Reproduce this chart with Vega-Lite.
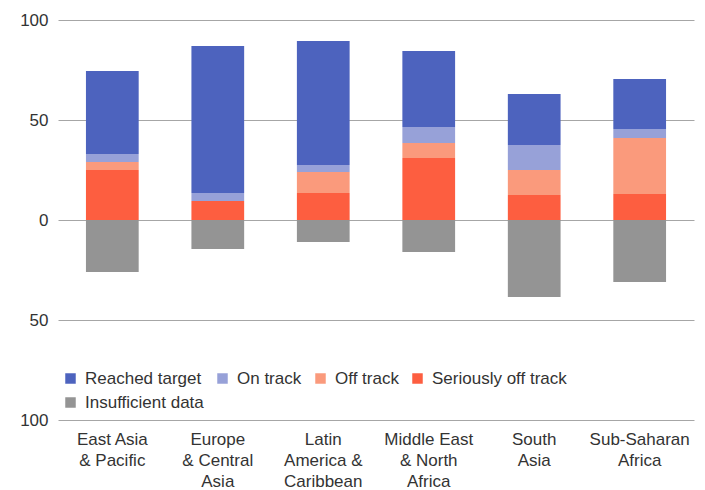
{
  "$schema": "https://vega.github.io/schema/vega-lite/v6.json",
  "width": 636,
  "height": 400,
  "autosize": "none",
  "padding": {"left": 58, "top": 20, "right": 11, "bottom": 70},
  "background": "white",
  "config": {
    "font": "Liberation Sans",
    "view": {"stroke": null}
  },
  "data": {
    "values": [
      {"region": "East Asia & Pacific", "status": "Reached target", "value": 41.5},
      {"region": "East Asia & Pacific", "status": "On track", "value": 4},
      {"region": "East Asia & Pacific", "status": "Off track", "value": 4},
      {"region": "East Asia & Pacific", "status": "Seriously off track", "value": 25},
      {"region": "East Asia & Pacific", "status": "Insufficient data", "value": -26},
      {"region": "Europe & Central Asia", "status": "Reached target", "value": 73.5},
      {"region": "Europe & Central Asia", "status": "On track", "value": 4},
      {"region": "Europe & Central Asia", "status": "Off track", "value": 0},
      {"region": "Europe & Central Asia", "status": "Seriously off track", "value": 9.5},
      {"region": "Europe & Central Asia", "status": "Insufficient data", "value": -14.5},
      {"region": "Latin America & Caribbean", "status": "Reached target", "value": 62},
      {"region": "Latin America & Caribbean", "status": "On track", "value": 3.5},
      {"region": "Latin America & Caribbean", "status": "Off track", "value": 10.5},
      {"region": "Latin America & Caribbean", "status": "Seriously off track", "value": 13.5},
      {"region": "Latin America & Caribbean", "status": "Insufficient data", "value": -11},
      {"region": "Middle East & North Africa", "status": "Reached target", "value": 38},
      {"region": "Middle East & North Africa", "status": "On track", "value": 8},
      {"region": "Middle East & North Africa", "status": "Off track", "value": 7.5},
      {"region": "Middle East & North Africa", "status": "Seriously off track", "value": 31},
      {"region": "Middle East & North Africa", "status": "Insufficient data", "value": -16},
      {"region": "South Asia", "status": "Reached target", "value": 25.5},
      {"region": "South Asia", "status": "On track", "value": 12.5},
      {"region": "South Asia", "status": "Off track", "value": 12.5},
      {"region": "South Asia", "status": "Seriously off track", "value": 12.5},
      {"region": "South Asia", "status": "Insufficient data", "value": -38.5},
      {"region": "Sub-Saharan Africa", "status": "Reached target", "value": 25},
      {"region": "Sub-Saharan Africa", "status": "On track", "value": 4.5},
      {"region": "Sub-Saharan Africa", "status": "Off track", "value": 28},
      {"region": "Sub-Saharan Africa", "status": "Seriously off track", "value": 13},
      {"region": "Sub-Saharan Africa", "status": "Insufficient data", "value": -31}
    ]
  },
  "transform": [
    {"calculate": "indexof(['Seriously off track','Off track','On track','Reached target','Insufficient data'], datum.status)", "as": "stackOrder"}
  ],
  "mark": {"type": "bar"},
  "encoding": {
    "x": {
      "field": "region",
      "type": "nominal",
      "sort": ["East Asia & Pacific", "Europe & Central Asia", "Latin America & Caribbean", "Middle East & North Africa", "South Asia", "Sub-Saharan Africa"],
      "scale": {"paddingInner": 0.5, "paddingOuter": 0.265},
      "axis": {
        "title": null,
        "domain": false,
        "ticks": false,
        "labelAngle": 0,
        "labelPadding": 11,
        "labelBaseline": "top",
        "labelFontSize": 17,
        "labelLineHeight": 21,
        "labelColor": "#333333",
        "labelExpr": "datum.label == 'East Asia & Pacific' ? ['East Asia', '& Pacific'] : datum.label == 'Europe & Central Asia' ? ['Europe', '& Central', 'Asia'] : datum.label == 'Latin America & Caribbean' ? ['Latin', 'America &', 'Caribbean'] : datum.label == 'Middle East & North Africa' ? ['Middle East', '& North', 'Africa'] : datum.label == 'South Asia' ? ['South', 'Asia'] : ['Sub-Saharan', 'Africa']"
      }
    },
    "y": {
      "field": "value",
      "type": "quantitative",
      "stack": "zero",
      "scale": {"domain": [-100, 100], "nice": false},
      "axis": {
        "title": null,
        "values": [-100, -50, 0, 50, 100],
        "labelExpr": "'' + abs(datum.value)",
        "domain": false,
        "ticks": false,
        "grid": true,
        "gridColor": "#a6a6a6",
        "gridWidth": 1,
        "labelPadding": 10,
        "labelFontSize": 17,
        "labelColor": "#333333"
      }
    },
    "color": {
      "field": "status",
      "type": "nominal",
      "scale": {
        "domain": ["Reached target", "On track", "Off track", "Seriously off track", "Insufficient data"],
        "range": ["#4d63be", "#97a1d8", "#fa9a7c", "#fd5e40", "#949494"]
      },
      "legend": {
        "title": null,
        "orient": "none",
        "legendX": 4,
        "legendY": 350,
        "direction": "horizontal",
        "columns": 4,
        "gridAlign": "none",
        "symbolType": "square",
        "symbolSize": 110,
        "symbolStrokeWidth": 0,
        "symbolOpacity": 1,
        "labelFontSize": 17,
        "labelColor": "#333333",
        "labelOffset": 6,
        "columnPadding": 10,
        "rowPadding": 6,
        "padding": 0
      }
    },
    "order": {"field": "stackOrder", "type": "quantitative"}
  }
}
